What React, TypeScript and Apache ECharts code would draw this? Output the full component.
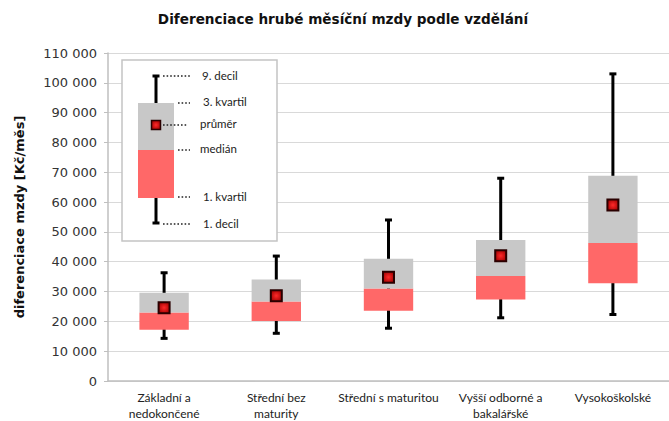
import React, { useEffect, useRef } from "react";
import * as echarts from "echarts";

const titleText = "Diferenciace hrubé měsíční mzdy podle vzdělání";
const yAxisName = "diferenciace mzdy [Kč/měs]";
const categories = [
  "Základní a\nnedokončené",
  "Střední bez\nmaturity",
  "Střední s maturitou",
  "Vyšší odborné a\nbakalářské",
  "Vysokoškolské",
];
const decil1 = [14300, 16000, 17700, 21200, 22300];
const kvartil1 = [17200, 20100, 23600, 27300, 32800];
const median = [23000, 26700, 31000, 35200, 46300];
const kvartil3 = [29600, 34000, 41000, 47300, 68800];
const decil9 = [36300, 41900, 54000, 68000, 103000];
const mean = [24600, 28600, 34800, 42000, 59000];
const legendLabels = ["9. decil", "3. kvartil", "průměr", "medián", "1. kvartil", "1. decil"];

const FONT = "Lato, 'Noto Sans', sans-serif";
const BOLD_FONT = "'DejaVu Sans', sans-serif";
const GRAY = "#c8c8c8";
const RED = "#ff6868";

function meanFill() {
  return new echarts.graphic.RadialGradient(0.5, 0.5, 0.6, [
    { offset: 0, color: "#ff2a2a" },
    { offset: 1, color: "#a00000" },
  ]);
}

export default function App() {
  const ref = useRef<HTMLDivElement>(null);
  useEffect(() => {
    if (!ref.current) return;
    const chart = echarts.init(ref.current, null, { renderer: "svg" });
    const boxData = categories.map((_, i) => [i, decil1[i], kvartil1[i], median[i], kvartil3[i], decil9[i]]);
    const dot = { stroke: "#222", lineWidth: 1.6, lineDash: [1.6, 2] };
    const lx = 156;
    const legend: any[] = [
      { type: "rect", shape: { x: 122, y: 60, width: 155, height: 181 }, style: { fill: "#fff", stroke: "#c4c4c4", lineWidth: 1.5 } },
      { type: "line", shape: { x1: lx, y1: 76, x2: lx, y2: 223 }, style: { stroke: "#000", lineWidth: 3 } },
      { type: "line", shape: { x1: lx - 3.5, y1: 76, x2: lx + 3.5, y2: 76 }, style: { stroke: "#000", lineWidth: 3 } },
      { type: "line", shape: { x1: lx - 3.5, y1: 223, x2: lx + 3.5, y2: 223 }, style: { stroke: "#000", lineWidth: 3 } },
      { type: "rect", shape: { x: 138, y: 150, width: 36, height: 48 }, style: { fill: RED } },
      { type: "rect", shape: { x: 138, y: 103, width: 36, height: 47 }, style: { fill: GRAY } },
      { type: "rect", shape: { x: lx - 4.5, y: 120.5, width: 9, height: 9 }, style: { fill: meanFill(), stroke: "#2a0000", lineWidth: 1.5 } },
      { type: "line", shape: { x1: 163, y1: 76, x2: 191, y2: 76 }, style: dot },
      { type: "line", shape: { x1: 178, y1: 103, x2: 190, y2: 103 }, style: dot },
      { type: "line", shape: { x1: 163, y1: 125, x2: 188, y2: 125 }, style: dot },
      { type: "line", shape: { x1: 178, y1: 150, x2: 190, y2: 150 }, style: dot },
      { type: "line", shape: { x1: 178, y1: 197, x2: 190, y2: 197 }, style: dot },
      { type: "line", shape: { x1: 163, y1: 224, x2: 191, y2: 224 }, style: dot },
    ];
    const legendPos = [
      [202, 75],
      [203, 101],
      [200, 123],
      [200, 148],
      [203, 196],
      [203, 223],
    ];
    legendLabels.forEach((t, i) => {
      legend.push({
        type: "text",
        x: legendPos[i][0],
        y: legendPos[i][1],
        style: { text: t, font: `11.5px ${FONT}`, fill: "#222", textVerticalAlign: "middle" },
      });
    });
    legend.forEach((el, i) => {
      el.z = 100 + i;
    });

    chart.setOption({
      animation: false,
      backgroundColor: "#fff",
      textStyle: { fontFamily: FONT },
      grid: { left: 108, top: 53, width: 571, height: 330, containLabel: false },
      xAxis: {
        type: "category",
        data: categories,
        axisLine: { lineStyle: { color: "#bfbfbf", width: 1.5 } },
        axisTick: { show: false },
        axisLabel: { interval: 0, fontSize: 12, lineHeight: 16, color: "#222", margin: 8, fontFamily: FONT },
      },
      yAxis: {
        type: "value",
        min: 0,
        max: 110000,
        interval: 10000,
        name: yAxisName,
        nameLocation: "middle",
        nameGap: 82,
        nameTextStyle: { fontSize: 13, fontWeight: "bold", color: "#111", fontFamily: BOLD_FONT },
        axisLine: { show: true, lineStyle: { color: "#bfbfbf", width: 1.5 } },
        axisTick: { show: true, length: 4, lineStyle: { color: "#bfbfbf" } },
        splitLine: { lineStyle: { color: "#d9d9d9", width: 1.2 } },
        axisLabel: {
          fontSize: 13,
          color: "#333",
          margin: 11,
          fontFamily: "'DejaVu Sans', sans-serif",
          formatter: (v: number) => (v === 0 ? "0" : `${v / 1000} 000`),
        },
      },
      graphic: [
        {
          type: "text",
          x: 343,
          y: 19,
          style: { text: titleText, font: `bold 13.6px ${BOLD_FONT}`, fill: "#111", textAlign: "center", textVerticalAlign: "middle" },
        },
        ...legend,
      ],
      series: [
        {
          type: "custom",
          data: boxData,
          encode: { x: 0, y: [1, 2, 3, 4, 5] },
          renderItem: (params: any, api: any) => {
            const idx = api.value(0);
            const x = api.coord([idx, 0])[0];
            const y = (k: number) => api.coord([idx, api.value(k)])[1];
            const yD1 = y(1), yQ1 = y(2), yMed = y(3), yQ3 = y(4), yD9 = y(5);
            const bw = api.size([1, 0])[0] * 0.44;
            const ls = { stroke: "#000", lineWidth: 3 };
            return {
              type: "group",
              children: [
                { type: "line", shape: { x1: x, y1: yD9, x2: x, y2: yD1 }, style: ls },
                { type: "line", shape: { x1: x - 3.5, y1: yD9, x2: x + 3.5, y2: yD9 }, style: ls },
                { type: "line", shape: { x1: x - 3.5, y1: yD1, x2: x + 3.5, y2: yD1 }, style: ls },
                { type: "rect", shape: { x: x - bw / 2, y: yMed, width: bw, height: yQ1 - yMed }, style: { fill: RED } },
                { type: "rect", shape: { x: x - bw / 2, y: yQ3, width: bw, height: yMed - yQ3 }, style: { fill: GRAY } },
              ],
            };
          },
          z: 2,
        },
        {
          type: "scatter",
          data: mean.map((m, i) => [i, m]),
          symbol: "rect",
          symbolSize: 11,
          itemStyle: { color: meanFill(), borderColor: "#2a0000", borderWidth: 2, opacity: 1 },
          z: 5,
        },
      ],
    });
    return () => chart.dispose();
  }, []);
  return (
    <div
      ref={ref}
      style={{ position: "fixed", left: 0, top: 0, width: 669, height: 421, background: "#fff" }}
    />
  );
}
